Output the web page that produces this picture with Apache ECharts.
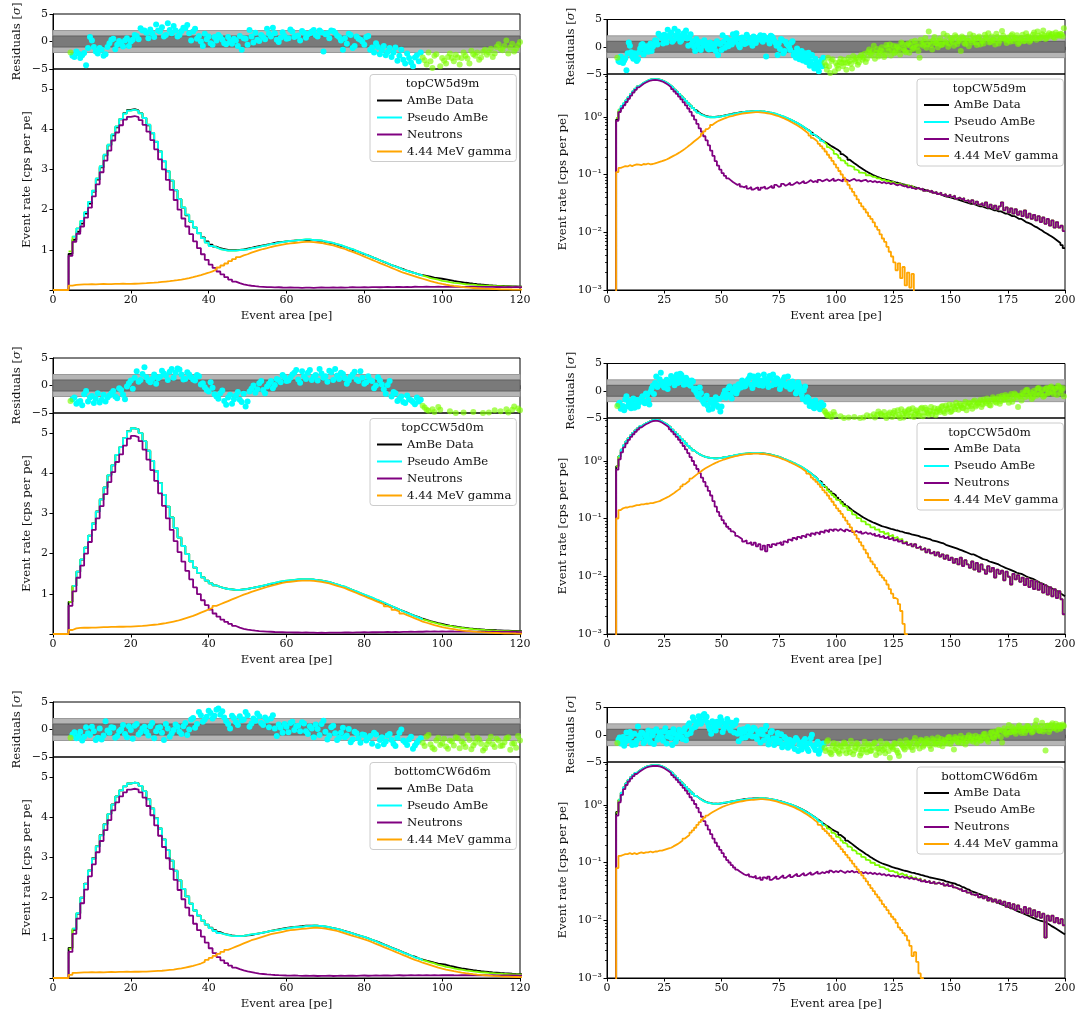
<!DOCTYPE html>
<html>
<head>
<meta charset="utf-8">
<title>AmBe spectra: data vs pseudo AmBe</title>
<script src="https://cdn.jsdelivr.net/npm/echarts@6/dist/echarts.min.js"></script>
<style>
  html, body { margin: 0; padding: 0; background: #ffffff; }
  #chart { width: 1080px; height: 1020px; }
</style>
</head>
<body>
<div id="chart"></div>
<script>
// ---------------------------------------------------------------------------
// Histograms: 1 pe bins, bin i covers [i, i+1) pe, i = 0..199.
// Values are event rates in cps per pe.
// Residuals are sampled every 0.5 pe: set A at 4.5, 5.5, ... 199.5 pe and
// set B at 5.0, 6.0, ... 199.0 pe.
// ---------------------------------------------------------------------------
const sourceLabels = ['topCW5d9m', 'topCCW5d0m', 'bottomCW6d6m'];
const legendNames = ['AmBe Data', 'Pseudo AmBe', 'Neutrons', '4.44 MeV gamma'];
const fitRange = [5, 95];           // pe range used in the fit
const residualStartA = 4.5;
const residualStartB = 5.0;

// ---- topCW5d9m ----
const ambe_topCW5d9m = [0,0,0,0,
0.9,1.25,1.45,1.65,1.9,2.15,2.45,2.75,3.05,3.35,
3.6,3.85,4.05,4.25,4.4,4.48,4.5,4.47,4.4,4.28,
4.1,3.9,3.68,3.45,3.2,2.95,2.72,2.48,2.26,2.05,
1.86,1.7,1.55,1.42,1.31,1.21,1.13,1.08,1.04,1.02,
1.0,0.99,0.99,1.0,1.01,1.03,1.05,1.07,1.09,1.11,
1.13,1.15,1.17,1.19,1.2,1.21,1.22,1.23,1.24,1.24,
1.25,1.24,1.24,1.23,1.22,1.2,1.18,1.16,1.13,1.1,
1.07,1.04,1.0,0.97,0.93,0.89,0.86,0.82,0.78,0.74,
0.7,0.66,0.62,0.59,0.55,0.52,0.48,0.45,0.42,0.39,
0.37,0.35,0.33,0.31,0.295,0.28,0.265,0.245,0.225,0.21,
0.195,0.18,0.168,0.157,0.147,0.138,0.13,0.122,0.115,0.109,
0.104,0.099,0.095,0.091,0.088,0.085,0.083,0.081,0.079,0.077,
0.075,0.073,0.072,0.07,0.068,0.067,0.065,0.064,0.062,0.061,
0.059,0.058,0.056,0.055,0.054,0.052,0.051,0.05,0.048,0.047,
0.046,0.045,0.043,0.042,0.041,0.04,0.039,0.038,0.037,0.036,
0.035,0.034,0.033,0.032,0.031,0.031,0.03,0.029,0.028,0.028,
0.027,0.026,0.026,0.025,0.024,0.024,0.023,0.023,0.022,0.021,
0.021,0.02,0.019,0.019,0.018,0.017,0.017,0.016,0.015,0.0145,
0.014,0.0132,0.0125,0.012,0.0113,0.0107,0.01,0.0095,0.009,0.0085,
0.008,0.0075,0.007,0.0065,0.006,0.0053];
const neutrons_topCW5d9m = [0,0,0,0,
0.85,1.2,1.4,1.58,1.8,2.05,2.33,2.63,2.93,3.22,
3.47,3.72,3.92,4.1,4.24,4.31,4.33,4.3,4.23,4.11,
3.94,3.73,3.5,3.25,3.0,2.74,2.49,2.24,2.0,1.78,
1.58,1.39,1.21,1.04,0.89,0.75,0.63,0.55,0.46,0.39,
0.32,0.26,0.21,0.17,0.142,0.121,0.106,0.095,0.086,0.08,
0.074,0.07,0.066,0.069,0.062,0.06,0.064,0.057,0.061,0.055,
0.058,0.06,0.054,0.059,0.062,0.057,0.06,0.064,0.059,0.066,
0.061,0.063,0.069,0.064,0.067,0.072,0.066,0.07,0.074,0.069,
0.073,0.077,0.071,0.075,0.08,0.074,0.077,0.073,0.081,0.076,
0.079,0.083,0.077,0.08,0.085,0.078,0.082,0.079,0.076,0.083,
0.08,0.077,0.081,0.084,0.078,0.08,0.076,0.079,0.081,0.075,
0.078,0.074,0.077,0.073,0.075,0.071,0.074,0.07,0.072,0.068,
0.071,0.067,0.065,0.068,0.064,0.062,0.065,0.06,0.063,0.058,
0.056,0.059,0.055,0.057,0.052,0.054,0.05,0.053,0.048,0.05,
0.046,0.049,0.044,0.046,0.042,0.045,0.041,0.043,0.038,0.04,
0.037,0.039,0.035,0.036,0.033,0.036,0.031,0.034,0.03,0.032,
0.029,0.033,0.027,0.03,0.026,0.029,0.025,0.028,0.033,0.024,
0.027,0.022,0.026,0.021,0.025,0.02,0.023,0.019,0.024,0.018,
0.021,0.017,0.02,0.016,0.019,0.015,0.018,0.014,0.017,0.013,
0.016,0.012,0.015,0.012,0.013,0.0105];
const gamma_topCW5d9m = [0,0,0,0,
0.11,0.13,0.135,0.14,0.138,0.145,0.14,0.146,0.15,0.148,
0.145,0.152,0.15,0.155,0.15,0.152,0.156,0.16,0.165,0.17,
0.176,0.182,0.19,0.2,0.21,0.22,0.232,0.245,0.26,0.278,
0.298,0.32,0.345,0.372,0.4,0.43,0.465,0.51,0.56,0.61,
0.66,0.72,0.77,0.82,0.86,0.89,0.93,0.96,0.99,1.02,
1.04,1.07,1.09,1.11,1.13,1.15,1.16,1.17,1.18,1.19,
1.2,1.2,1.19,1.18,1.17,1.15,1.13,1.11,1.08,1.05,
1.02,0.98,0.95,0.91,0.87,0.83,0.79,0.75,0.71,0.67,
0.63,0.59,0.55,0.51,0.47,0.43,0.4,0.37,0.34,0.31,
0.28,0.25,0.22,0.195,0.172,0.15,0.132,0.115,0.1,0.088,
0.076,0.066,0.057,0.05,0.043,0.037,0.032,0.028,0.025,0.022,
0.019,0.017,0.0148,0.0125,0.011,0.0092,0.0078,0.0068,0.0056,0.0046,
0.0038,0.003,0.0022,0.0029,0.0016,0.0025,0.0012,0.002,0.0011,0.0019,
0,0,0,0,0,0,0,0,0,0,0,0,0,0,0,0,0,0,0,0,0,0,0,0,0,0,0,0,0,0,0,0,0,
0,0,0,0,0,0,0,0,0,0,0,0,0,0,0,0,0,0,0,0,0,0,0,0,0,0,0,0,0,0,0,0,0];
const residualsA_topCW5d9m = [
-2.0,-2.8,-2.2,-2.5,-4.3,0.8,-1.0,-2.2,-1.5,-2.3,
-0.3,0.5,-0.6,-0.4,0.2,-0.8,0.3,1.0,2.4,2.0,
0.6,1.5,3.1,1.8,0.9,3.3,1.5,2.0,1.2,2.5,
3.0,0.2,2.3,1.0,-0.8,0.4,-0.3,0.8,1.2,0.3,
-0.5,0.0,0.5,-0.8,-1.5,0.5,2.1,-0.2,0.3,1.2,
0.4,1.4,2.5,0.3,0.7,1.0,0.6,1.8,1.0,0.2,
1.6,1.3,1.8,1.2,2.0,-1.8,1.5,2.0,1.6,0.8,
-1.5,-0.4,1.2,-0.8,0.5,0.0,0.8,-1.5,-2.0,-1.0,
-1.6,-2.5,-1.2,-2.0,-3.5,-1.5,-4.0,-3.0,-4.5,-2.5,
-2.0,-3.4,-2.0,-4.8,-2.3,-4.5,-3.5,-2.8,-3.0,-2.4,
-4.2,-2.0,-3.1,-1.7,-2.6,-3.3,-1.9,-2.4,-1.3,-2.2,
-0.5,-1.6,0.2,-1.1,-1.8,-0.7,-0.9,-1.5,-0.2,0.4,
-0.6,-1.2,0.1,-0.5,0.8,-0.3,-1.0,0.6,0.2,-0.4,
1.1,0.0,-2.0,0.5,0.9,-0.2,2.8,0.3,1.2,0.7,
-0.1,1.5,0.4,1.0,2.0,0.6,1.3,0.2,1.8,1.0,
-0.8,1.6,0.5,1.1,2.3,0.8,1.4,0.3,1.9,1.2,
0.6,1.7,2.5,0.9,1.3,0.4,1.8,1.1,2.9,1.5,
0.7,1.2,2.0,1.0,1.6,0.5,1.4,2.2,1.1,1.8,
0.9,1.5,2.6,1.3,2.0,1.7,3.0,1.4,2.1,1.9,
2.4,1.6,2.2,2.0,2.3,3.4];
const residualsB_topCW5d9m = [
-2.6,-1.8,-3.0,-2.1,-1.2,0.2,-1.8,-1.2,-2.6,-1.0,
0.3,-1.4,0.1,-0.9,0.6,0.0,1.2,0.4,2.0,1.6,
2.2,0.8,2.0,2.6,1.2,2.1,2.8,0.9,1.9,2.4,
1.5,1.8,0.5,0.0,1.4,0.9,-0.6,0.2,0.8,-0.3,
0.8,-0.4,0.2,1.0,0.6,-0.6,0.9,1.6,0.1,0.8,
2.3,0.9,1.5,-0.1,1.7,0.5,2.2,0.8,1.1,1.9,
0.7,1.5,2.1,0.9,1.7,1.3,0.6,1.9,1.1,0.2,
0.6,1.4,-1.2,0.9,0.3,-0.6,1.0,-1.1,-0.3,-2.3,
-0.8,-1.9,-2.8,-1.1,-2.6,-3.3,-2.2,-3.8,-2.9,-3.6,
-2.9,-4.2,-3.6,-2.6,-5.2,-3.0,-4.0,-2.2,-3.6,-2.9,
-3.0,-2.6,-4.0,-2.3,-2.0,-2.9,-1.5,-2.0,-2.8,-1.0,
-1.3,-0.8,-2.2,-0.4,-1.3,-0.1,-1.9,0.3,-0.8,-1.6,
0.2,-0.9,-0.1,-1.4,0.5,-0.7,0.3,-1.1,0.9,-0.2,
0.5,-0.8,1.3,0.2,1.6,0.4,0.9,-0.5,1.8,0.6,
1.1,0.3,2.4,0.8,0.0,1.6,0.9,2.1,0.5,1.3,
1.9,0.7,1.5,0.1,1.2,2.0,0.8,1.6,0.4,1.0,
2.2,1.4,0.8,1.9,1.2,2.4,0.6,1.5,2.0,1.3,
1.7,0.9,2.3,1.4,2.1,0.8,1.6,1.0,2.5,1.9,
1.2,2.2,1.7,2.8,1.5,2.3,2.0,1.6,2.5,2.2,
1.8,2.6,2.1,2.4,1.9];

// ---- topCCW5d0m ----
const ambe_topCCW5d0m = [0,0,0,0,
0.8,1.2,1.55,1.85,2.15,2.45,2.75,3.05,3.35,3.65,
3.95,4.2,4.45,4.65,4.88,5.05,5.12,5.1,5.0,4.8,
4.56,4.31,4.05,3.76,3.46,3.17,2.9,2.64,2.4,2.19,
1.99,1.81,1.65,1.52,1.41,1.33,1.26,1.21,1.17,1.14,
1.12,1.11,1.1,1.1,1.11,1.12,1.14,1.16,1.18,1.2,
1.22,1.24,1.26,1.28,1.3,1.31,1.33,1.34,1.35,1.36,
1.36,1.36,1.35,1.34,1.33,1.31,1.29,1.26,1.23,1.2,
1.17,1.13,1.09,1.05,1.01,0.97,0.93,0.89,0.85,0.81,
0.77,0.73,0.69,0.65,0.61,0.57,0.53,0.49,0.45,0.42,
0.38,0.35,0.32,0.295,0.27,0.25,0.23,0.21,0.193,0.178,
0.164,0.152,0.141,0.132,0.124,0.117,0.11,0.104,0.099,0.094,
0.09,0.086,0.083,0.08,0.077,0.074,0.072,0.07,0.068,0.066,
0.065,0.063,0.062,0.06,0.059,0.057,0.056,0.055,0.053,0.052,
0.051,0.05,0.048,0.047,0.046,0.045,0.044,0.042,0.041,0.04,
0.039,0.038,0.037,0.035,0.034,0.033,0.032,0.031,0.03,0.029,
0.028,0.027,0.026,0.025,0.024,0.024,0.023,0.022,0.021,0.02,
0.0195,0.019,0.018,0.0175,0.017,0.0165,0.016,0.0152,0.0146,0.014,
0.0135,0.013,0.0125,0.012,0.0115,0.0112,0.011,0.0105,0.01,0.0096,
0.0093,0.009,0.0086,0.0082,0.0078,0.0075,0.0072,0.0068,0.0065,0.0062,
0.006,0.0057,0.0054,0.0051,0.0048,0.0045];
const neutrons_topCCW5d0m = [0,0,0,0,
0.7,1.06,1.4,1.7,2.0,2.29,2.59,2.88,3.18,3.48,
3.78,4.03,4.28,4.47,4.69,4.86,4.93,4.9,4.8,4.59,
4.34,4.08,3.81,3.5,3.19,2.88,2.59,2.31,2.04,1.8,
1.57,1.36,1.16,0.99,0.84,0.72,0.61,0.51,0.43,0.36,
0.3,0.25,0.2,0.16,0.13,0.11,0.094,0.082,0.072,0.066,
0.06,0.056,0.05,0.047,0.044,0.04,0.042,0.037,0.039,0.035,
0.038,0.033,0.036,0.029,0.034,0.027,0.035,0.032,0.036,0.034,
0.037,0.039,0.035,0.04,0.038,0.043,0.041,0.046,0.043,0.048,
0.045,0.05,0.047,0.053,0.049,0.055,0.052,0.057,0.053,0.059,
0.056,0.062,0.058,0.064,0.06,0.065,0.061,0.066,0.062,0.059,
0.064,0.06,0.063,0.058,0.061,0.057,0.06,0.055,0.058,0.054,
0.056,0.052,0.055,0.05,0.053,0.048,0.05,0.046,0.049,0.044,
0.047,0.042,0.044,0.04,0.042,0.037,0.039,0.035,0.037,0.033,
0.036,0.031,0.033,0.029,0.031,0.026,0.029,0.025,0.027,0.023,
0.026,0.022,0.024,0.02,0.023,0.019,0.021,0.017,0.02,0.016,
0.021,0.015,0.019,0.016,0.014,0.018,0.013,0.017,0.012,0.016,
0.013,0.011,0.015,0.012,0.014,0.0095,0.013,0.011,0.0125,0.0085,
0.012,0.0098,0.0072,0.011,0.0088,0.0105,0.008,0.0095,0.007,0.0092,
0.0065,0.0085,0.006,0.0082,0.0058,0.0075,0.0052,0.007,0.0048,0.0065,
0.0045,0.006,0.0042,0.0055,0.004,0.0022];
const gamma_topCCW5d0m = [0,0,0,0,
0.1,0.14,0.15,0.155,0.155,0.16,0.16,0.165,0.17,0.17,
0.175,0.175,0.18,0.18,0.185,0.185,0.19,0.195,0.2,0.21,
0.22,0.23,0.24,0.255,0.27,0.29,0.31,0.33,0.36,0.39,
0.42,0.45,0.49,0.53,0.57,0.61,0.65,0.7,0.74,0.78,
0.82,0.86,0.9,0.94,0.98,1.01,1.05,1.08,1.11,1.14,
1.17,1.2,1.22,1.25,1.27,1.29,1.3,1.31,1.32,1.33,
1.33,1.33,1.32,1.31,1.3,1.28,1.26,1.23,1.2,1.17,
1.14,1.1,1.06,1.02,0.98,0.94,0.9,0.86,0.82,0.78,
0.74,0.69,0.65,0.6,0.56,0.51,0.47,0.43,0.39,0.35,
0.31,0.28,0.25,0.22,0.195,0.17,0.15,0.135,0.12,0.105,
0.092,0.08,0.07,0.06,0.052,0.045,0.039,0.034,0.029,0.025,
0.021,0.018,0.016,0.014,0.012,0.0105,0.0095,0.0085,0.0072,0.006,
0.005,0.0042,0.004,0.0033,0.0025,0.0015,0.001,
0,0,0,0,0,0,0,0,0,0,0,0,0,0,0,0,0,0,0,0,0,0,0,0,0,0,0,0,0,0,0,0,0,0,0,
0,0,0,0,0,0,0,0,0,0,0,0,0,0,0,0,0,0,0,0,0,0,0,0,0,0,0,0,0,0,0,0,0,0];
const residualsA_topCCW5d0m = [
-2.8,-2.2,-3.0,-3.6,-1.0,-2.2,-3.2,-1.4,-2.6,-2.9,
-1.8,-1.0,-2.3,-0.8,-2.5,0.4,-0.6,2.6,1.0,3.3,
0.9,1.2,0.3,1.6,2.2,1.0,3.0,2.3,2.9,1.1,
2.4,1.5,0.9,1.7,0.4,-0.8,0.6,-1.6,-2.4,-0.9,
-3.5,-1.7,-2.5,-1.2,-3.0,-3.8,-1.1,0.0,-0.7,0.8,
-1.4,0.3,-0.5,1.2,0.6,1.5,0.9,2.0,2.8,0.5,
1.7,2.3,1.0,1.9,3.0,1.4,0.7,2.4,3.0,1.2,
2.1,0.3,1.6,2.5,0.8,1.4,0.6,1.0,-0.5,1.5,
0.2,-1.5,0.8,-1.2,-2.8,-2.0,-3.2,-2.5,-3.0,-2.2,
-2.6,-4.0,-4.6,-4.3,-5.6,-4.4,-6.0,-5.4,-6.5,-5.0,
-7.0,-4.9,-6.2,-5.8,-7.5,-6.4,-5.0,-6.8,-5.5,-4.5,
-6.0,-5.2,-4.3,-5.7,-3.8,-4.2,-5.1,-4.6,-5.5,-4.0,
-4.8,-3.7,-5.2,-4.4,-3.4,-4.9,-4.1,-3.6,-4.7,-3.2,
-4.3,-3.8,-4.6,-3.1,-4.0,-3.5,-4.4,-3.0,-3.8,-4.5,
-3.3,-3.9,-2.8,-4.1,-3.4,-2.5,-3.7,-3.0,-2.2,-3.5,
-2.7,-3.2,-2.0,-2.9,-2.4,-3.3,-1.8,-2.6,-2.1,-3.0,
-1.6,-2.3,-1.9,-2.7,-1.2,-2.0,-1.5,-2.4,-0.9,-1.7,
-1.1,-2.2,-0.6,-1.4,-0.8,-3.0,-1.0,-0.3,-1.2,0.2,
-0.7,-1.5,0.0,-0.9,0.5,-0.4,-1.1,0.3,-0.5,0.6,
-0.2,0.4,-0.8,0.7,0.1,-1.0];
const residualsB_topCCW5d0m = [
-2.5,-3.3,-2.8,-1.6,-2.9,-1.9,-2.4,-3.1,-1.7,-2.2,
-1.4,-2.0,-0.5,-1.7,-0.2,0.9,1.4,0.7,2.1,1.5,
0.6,2.0,1.3,2.7,1.8,2.5,1.4,3.1,2.0,1.2,
2.0,1.1,1.9,0.2,-0.3,-1.1,-0.4,-2.0,-1.4,-2.8,
-2.2,-3.3,-1.8,-2.6,-1.5,-2.9,-0.6,-1.3,0.4,-0.8,
-0.2,0.8,0.1,1.0,1.9,0.8,1.4,2.3,1.1,2.6,
1.2,2.8,1.6,0.9,2.2,1.7,2.7,1.0,1.8,2.3,
1.3,0.9,2.0,1.1,2.6,0.3,1.7,0.8,0.0,0.9,
-0.7,0.1,-2.0,-1.4,-2.4,-3.0,-1.8,-2.7,-3.4,-2.9,
-3.7,-4.4,-5.2,-4.8,-3.9,-6.2,-5.8,-4.7,-6.8,-5.6,
-6.3,-5.3,-7.2,-4.8,-6.0,-5.7,-6.6,-4.9,-5.9,-5.1,
-4.7,-5.6,-4.9,-4.4,-5.3,-4.5,-3.9,-5.0,-4.3,-5.4,
-4.1,-4.6,-3.6,-5.0,-4.2,-3.8,-4.5,-3.4,-4.0,-4.8,
-3.6,-4.2,-3.3,-4.7,-3.1,-4.1,-3.7,-4.3,-3.2,-3.9,
-3.6,-3.0,-3.8,-2.7,-3.2,-3.9,-2.6,-3.4,-2.8,-2.4,
-3.1,-2.5,-3.6,-2.2,-2.8,-2.0,-2.9,-2.3,-1.7,-2.5,
-2.0,-1.4,-2.6,-1.8,-1.5,-2.2,-1.1,-1.9,-1.3,-0.8,
-1.6,-1.0,-2.0,-0.5,-1.3,-0.9,-1.8,-0.6,0.1,-1.0,
-0.3,-1.2,-0.5,0.4,-0.7,0.2,-0.9,0.5,-0.3,0.8,
-0.6,0.3,0.9,-0.4,0.5];

// ---- bottomCW6d6m ----
const ambe_bottomCW6d6m = [0,0,0,0,
0.75,1.2,1.6,2.0,2.35,2.68,2.98,3.28,3.56,3.83,
4.08,4.32,4.52,4.67,4.77,4.84,4.86,4.85,4.78,4.65,
4.45,4.22,3.98,3.72,3.45,3.18,2.92,2.67,2.43,2.22,
2.03,1.85,1.68,1.55,1.43,1.33,1.25,1.19,1.14,1.1,
1.08,1.06,1.05,1.05,1.05,1.06,1.07,1.09,1.11,1.13,
1.15,1.17,1.19,1.21,1.23,1.25,1.26,1.27,1.28,1.29,
1.3,1.3,1.3,1.3,1.29,1.28,1.26,1.24,1.22,1.2,
1.17,1.14,1.11,1.08,1.05,1.02,0.99,0.95,0.92,0.88,
0.84,0.8,0.76,0.72,0.68,0.64,0.6,0.56,0.53,0.49,
0.46,0.43,0.41,0.38,0.36,0.345,0.33,0.3,0.28,0.26,
0.24,0.225,0.21,0.195,0.182,0.17,0.16,0.15,0.141,0.133,
0.125,0.118,0.112,0.106,0.101,0.097,0.094,0.091,0.088,0.085,
0.082,0.08,0.078,0.076,0.074,0.072,0.071,0.069,0.067,0.066,
0.064,0.063,0.061,0.06,0.058,0.057,0.055,0.054,0.053,0.052,
0.051,0.05,0.049,0.047,0.046,0.045,0.044,0.043,0.041,0.04,
0.038,0.037,0.035,0.034,0.032,0.031,0.03,0.029,0.028,0.027,
0.026,0.025,0.024,0.023,0.022,0.021,0.02,0.019,0.0185,0.018,
0.017,0.0165,0.016,0.0152,0.0145,0.014,0.0135,0.013,0.0125,0.012,
0.0115,0.011,0.0106,0.0102,0.0099,0.0097,0.0095,0.009,0.0085,0.008,
0.0076,0.0072,0.0068,0.0064,0.006,0.0057];
const neutrons_bottomCW6d6m = [0,0,0,0,
0.65,1.1,1.48,1.86,2.2,2.53,2.83,3.13,3.41,3.68,
3.93,4.17,4.37,4.52,4.62,4.69,4.71,4.69,4.62,4.49,
4.28,4.05,3.8,3.54,3.26,2.98,2.71,2.44,2.19,1.96,
1.75,1.55,1.35,1.19,1.03,0.88,0.74,0.62,0.52,0.44,
0.37,0.31,0.26,0.22,0.19,0.165,0.145,0.125,0.11,0.1,
0.09,0.082,0.075,0.07,0.066,0.062,0.06,0.063,0.057,0.055,
0.059,0.053,0.056,0.05,0.055,0.052,0.057,0.05,0.054,0.058,
0.052,0.056,0.06,0.054,0.058,0.062,0.056,0.06,0.064,0.058,
0.062,0.066,0.06,0.064,0.068,0.062,0.066,0.07,0.064,0.068,
0.065,0.07,0.066,0.072,0.067,0.071,0.068,0.073,0.069,0.066,
0.071,0.068,0.072,0.067,0.07,0.066,0.069,0.065,0.068,0.064,
0.067,0.063,0.066,0.062,0.065,0.061,0.063,0.059,0.062,0.058,
0.06,0.057,0.059,0.055,0.058,0.054,0.056,0.052,0.055,0.051,
0.053,0.049,0.052,0.047,0.05,0.046,0.048,0.044,0.047,0.043,
0.045,0.042,0.044,0.04,0.043,0.039,0.041,0.037,0.036,0.034,
0.035,0.032,0.033,0.03,0.031,0.028,0.027,0.029,0.025,0.027,
0.024,0.026,0.022,0.024,0.021,0.023,0.02,0.022,0.019,0.021,
0.017,0.02,0.016,0.019,0.015,0.018,0.0155,0.0135,0.017,0.013,
0.016,0.012,0.015,0.0115,0.014,0.011,0.013,0.005,0.012,0.0098,
0.012,0.0092,0.011,0.0088,0.0105,0.0082];
const gamma_bottomCW6d6m = [0,0,0,0,
0.08,0.13,0.135,0.14,0.14,0.145,0.14,0.145,0.14,0.145,
0.15,0.145,0.15,0.15,0.155,0.15,0.155,0.155,0.16,0.16,
0.165,0.17,0.175,0.18,0.19,0.2,0.21,0.225,0.24,0.26,
0.28,0.3,0.33,0.36,0.4,0.45,0.5,0.55,0.6,0.65,
0.7,0.74,0.78,0.82,0.86,0.9,0.94,0.97,1.0,1.03,
1.06,1.09,1.11,1.13,1.15,1.17,1.19,1.2,1.21,1.22,
1.23,1.24,1.25,1.25,1.24,1.23,1.21,1.19,1.17,1.14,
1.11,1.08,1.05,1.02,0.99,0.96,0.93,0.89,0.85,0.81,
0.77,0.73,0.69,0.65,0.61,0.57,0.53,0.49,0.45,0.42,
0.38,0.35,0.32,0.29,0.26,0.235,0.21,0.19,0.17,0.152,
0.136,0.121,0.108,0.096,0.085,0.076,0.068,0.06,0.053,0.047,
0.041,0.036,0.032,0.028,0.025,0.022,0.019,0.017,0.015,0.013,
0.0115,0.0104,0.009,0.0075,0.0068,0.006,0.0054,0.0045,0.0036,0.0024,
0.0028,0.0019,0.0012,0.001,
0,0,0,0,0,0,0,0,0,0,0,0,0,0,0,0,0,0,0,0,0,0,0,0,0,0,0,0,0,0,0,
0,0,0,0,0,0,0,0,0,0,0,0,0,0,0,0,0,0,0,0,0,0,0,0,0,0,0,0,0,0,0];
const residualsA_bottomCW6d6m = [
-1.5,-0.5,-1.2,-2.0,0.4,-1.0,-0.3,-1.5,-1.8,1.5,
-0.6,0.3,-1.2,0.0,-0.8,0.6,-1.7,1.0,-0.5,0.5,
-1.1,1.2,-0.3,0.4,-1.9,0.2,-0.7,0.9,-0.4,0.6,
-1.0,1.8,0.3,3.2,1.4,2.3,3.0,2.5,3.8,3.3,
1.5,0.2,2.1,0.8,1.7,3.2,0.5,2.0,2.9,1.2,
2.2,0.4,2.6,-1.2,0.3,1.0,-0.5,1.4,0.6,-0.3,
1.1,-0.8,0.2,0.9,-1.0,1.6,-1.8,0.4,-0.7,-1.5,
0.3,-1.1,-2.3,-0.4,-1.6,-0.9,-2.0,-1.2,-0.6,-3.0,
-1.4,-2.2,-0.8,-2.6,-1.5,0.0,-2.3,-1.8,-3.5,-2.4,
-1.6,-3.0,-1.0,-3.3,-2.0,-2.8,-1.7,-3.5,-2.2,-1.4,
-3.4,-2.6,-1.1,-3.6,-2.4,-1.8,-3.8,-2.7,-1.3,-3.2,
-2.0,-2.9,-1.6,-3.7,-2.5,-1.2,-2.8,-3.4,-1.9,-4.2,
-2.3,-1.5,-2.9,-3.9,-1.8,-2.4,-1.0,-2.2,-1.4,-2.8,
-0.6,-1.7,-2.5,-1.1,-1.9,-0.8,-1.5,-2.6,-1.0,-1.8,
-0.5,-1.3,-2.1,-0.9,-1.6,-0.4,-1.2,-2.7,-0.7,-1.4,
-0.2,-1.0,-1.8,-0.5,-1.1,-0.3,-0.9,-1.5,-0.4,-1.0,
0.1,-0.6,-1.3,0.3,-0.5,0.6,-0.2,0.8,-1.4,1.2,
0.0,1.8,0.5,1.0,0.2,1.4,0.7,1.1,0.3,1.6,
0.9,0.4,1.3,2.6,0.8,1.5,0.6,-2.9,1.7,1.0,
2.1,1.3,0.9,1.8,1.4,1.6];
const residualsB_bottomCW6d6m = [
-0.9,-1.6,-0.4,-1.3,-0.7,0.5,-1.9,0.2,-1.1,-0.2,
0.4,-1.5,-0.3,0.8,-1.4,-0.1,0.7,-0.9,0.2,-0.4,
0.6,-1.6,0.3,-0.6,1.0,-1.3,-0.1,0.5,-0.8,1.2,
0.0,2.1,1.0,2.6,1.8,3.4,2.0,3.6,2.7,2.2,
1.0,2.5,1.3,2.4,1.8,2.6,1.1,1.6,2.4,0.8,
1.7,2.0,0.2,0.9,-0.6,0.5,1.2,-0.1,0.7,1.3,
-0.3,0.6,-1.4,0.1,1.0,-0.4,-1.1,0.7,-1.9,-0.6,
-1.4,0.1,-1.8,-0.7,-2.4,-1.0,-1.6,-2.6,-0.9,-1.9,
-2.7,-1.1,-1.9,-3.0,-0.6,-2.0,-2.8,-1.3,-2.9,-2.0,
-2.4,-1.3,-2.7,-3.6,-1.5,-2.5,-3.1,-2.0,-2.9,-1.6,
-2.2,-3.2,-1.9,-2.9,-1.5,-2.6,-3.4,-2.1,-2.7,-1.7,
-3.0,-2.3,-1.4,-2.6,-3.3,-2.0,-2.5,-1.6,-3.0,-2.1,
-2.6,-1.7,-3.3,-1.2,-2.0,-2.7,-1.5,-1.9,-2.3,-1.2,
-2.0,-1.3,-0.9,-2.2,-1.4,-1.1,-2.0,-0.7,-1.6,-1.2,
-1.9,-0.8,-1.4,-1.1,-0.5,-1.7,-0.9,-0.4,-1.3,-0.8,
-1.5,-0.6,-1.2,-0.1,-0.8,-1.3,-0.2,-0.7,-1.1,-0.4,
0.2,-0.9,-0.3,0.5,-0.7,0.1,0.9,-0.4,0.6,0.3,
1.0,0.4,1.4,0.6,0.9,1.7,0.3,1.2,0.8,1.5,
1.1,0.6,1.9,1.3,0.7,2.2,1.0,1.6,0.5,1.8,
1.2,2.0,1.5,1.1,1.9];

// Top of the linear rate axis for each source
const linearYMax = [5.5, 5.5, 5.5];
const logYRange = [0.001, 5.5];

// ---------------------------------------------------------------------------
const FONT = 'DejaVu Serif';
const C = {
  data: '#000000', pseudo: '#00ffff', outside: '#7cfc00',
  neutrons: '#800080', gamma: '#ffa500'
};
const ambeRows = [ambe_topCW5d9m, ambe_topCCW5d0m, ambe_bottomCW6d6m];
const neutronRows = [neutrons_topCW5d9m, neutrons_topCCW5d0m, neutrons_bottomCW6d6m];
const gammaRows = [gamma_topCW5d9m, gamma_topCCW5d0m, gamma_bottomCW6d6m];
const residualRowsA = [residualsA_topCW5d9m, residualsA_topCCW5d0m, residualsA_bottomCW6d6m];
const residualRowsB = [residualsB_topCW5d9m, residualsB_topCCW5d0m, residualsB_bottomCW6d6m];

const ROW_PITCH = 344;
const COLS = [
  { left: 53, width: 467, resTop: 14, resH: 55, mainTop: 69, mainH: 221,
    xMax: 120, xStep: 20, log: false, mainGap: 20, resGap: 30,
    legendLeft: 370, legendTop: 74.5 },
  { left: 607, width: 458, resTop: 19.5, resH: 54.5, mainTop: 74, mainH: 216,
    xMax: 200, xStep: 25, log: true, mainGap: 38, resGap: 30,
    legendLeft: 917, legendTop: 79 }
];
const LEGEND_W = 145;
const TEXT_SIZE = 11.7;   // axis titles and legend
const TICK_SIZE = 11;     // tick labels
// plain line swatch for the legend entries
const LINE_ICON = 'path://M0,0 L25,0 L25,2 L0,2 Z';

const SUP = { '-': '\u207B', '0': '\u2070', '1': '\u00B9', '2': '\u00B2', '3': '\u00B3' };
function logLabel(v) {
  const e = Math.log10(v);
  const r = Math.round(e);
  if (Math.abs(e - r) > 1e-6) return '';
  return '10' + String(r).split('').map(ch => SUP[ch]).join('');
}

// step histogram points; bin i is drawn over [i, i+1)
function histSteps(vals, from, to, logSafe) {
  const pts = [];
  for (let i = from; i < to; i++) {
    const v = vals[i];
    pts.push([i, (logSafe && !(v > 0)) ? 1e-9 : v]);
  }
  pts.push([to, pts[pts.length - 1][1]]);
  return pts;
}

const axisLineStyle = { show: true, lineStyle: { color: '#000', width: 1 } };
const tickStyle = { show: true, inside: false, length: 3.5, lineStyle: { color: '#000', width: 1 } };
const labelStyle = { fontFamily: FONT, fontSize: TICK_SIZE, color: '#111', margin: 5 };
const nameStyle = { fontFamily: FONT, fontSize: TEXT_SIZE, color: '#111' };

const grids = [], xAxes = [], yAxes = [], series = [], legends = [], graphics = [];

for (let r = 0; r < 3; r++) {
  const dy = r * ROW_PITCH;
  const ambe = ambeRows[r], neu = neutronRows[r], gam = gammaRows[r];
  // the pseudo AmBe spectrum is the sum of the two fitted templates
  const pseudo = neu.map((v, i) => +(v + gam[i]).toFixed(5));

  // residual points, split by the fit range
  const inFit = [], outFit = [];
  const addResiduals = (vals, start) => vals.forEach((v, k) => {
    const x = start + k;
    (x >= fitRange[0] && x < fitRange[1] ? inFit : outFit).push([x, v]);
  });
  addResiduals(residualRowsA[r], residualStartA);
  addResiduals(residualRowsB[r], residualStartB);

  for (let c = 0; c < 2; c++) {
    const col = COLS[c];
    const gRes = grids.length;
    const gMain = gRes + 1;

    grids.push({ left: col.left, top: col.resTop + dy, width: col.width, height: col.resH,
      show: true, borderColor: '#000', borderWidth: 1, backgroundColor: 'transparent' });
    grids.push({ left: col.left, top: col.mainTop + dy, width: col.width, height: col.mainH,
      show: true, borderColor: '#000', borderWidth: 1, backgroundColor: 'transparent' });

    // residual axes
    xAxes.push({ gridIndex: gRes, type: 'value', min: 0, max: col.xMax, interval: col.xStep,
      axisLine: axisLineStyle, axisTick: tickStyle, axisLabel: { show: false }, splitLine: { show: false } });
    yAxes.push({ gridIndex: gRes, type: 'value', min: -5, max: 5, interval: 5,
      name: 'Residuals [{i|\u03C3}]', nameLocation: 'middle', nameGap: col.resGap,
      nameTextStyle: Object.assign({}, nameStyle, { rich: { i: { fontFamily: FONT, fontSize: TEXT_SIZE, fontStyle: 'italic', color: '#111' } } }),
      axisLine: axisLineStyle, axisTick: tickStyle,
      axisLabel: Object.assign({}, labelStyle, { formatter: v => String(v).replace('-', '\u2212') }),
      splitLine: { show: false } });

    // main axes
    xAxes.push({ gridIndex: gMain, type: 'value', min: 0, max: col.xMax, interval: col.xStep,
      name: 'Event area [pe]', nameLocation: 'middle', nameGap: 20, nameTextStyle: nameStyle,
      axisLine: axisLineStyle, axisTick: tickStyle, axisLabel: labelStyle, splitLine: { show: false } });
    if (col.log) {
      yAxes.push({ gridIndex: gMain, type: 'log', logBase: 10, min: logYRange[0], max: logYRange[1],
        name: 'Event rate [cps per pe]', nameLocation: 'middle', nameGap: col.mainGap, nameTextStyle: nameStyle,
        axisLine: axisLineStyle, axisTick: tickStyle,
        minorTick: { show: true, splitNumber: 9, length: 2, lineStyle: { color: '#000', width: 0.8 } },
        axisLabel: Object.assign({}, labelStyle, { formatter: logLabel }),
        splitLine: { show: false }, minorSplitLine: { show: false } });
    } else {
      yAxes.push({ gridIndex: gMain, type: 'value', min: 0, max: linearYMax[r], interval: 1,
        name: 'Event rate [cps per pe]', nameLocation: 'middle', nameGap: col.mainGap, nameTextStyle: nameStyle,
        axisLine: axisLineStyle, axisTick: tickStyle,
        axisLabel: Object.assign({}, labelStyle, { formatter: v => (v >= 1 && Number.isInteger(v)) ? String(v) : '' }),
        splitLine: { show: false } });
    }

    series.push({ type: 'scatter', name: 'residuals (fit range)', xAxisIndex: gRes, yAxisIndex: gRes,
      data: inFit, symbolSize: 6, itemStyle: { color: C.pseudo, opacity: 1 }, z: 3, silent: true,
      markArea: { silent: true, z: 1, data: [
        [{ yAxis: -2, itemStyle: { color: '#b5b5b5', borderColor: '#9a9a9a', borderWidth: 1 } }, { yAxis: 2 }],
        [{ yAxis: -1, itemStyle: { color: '#7a7a7a', borderColor: '#606060', borderWidth: 1 } }, { yAxis: 1 }]
      ] } });
    series.push({ type: 'scatter', name: 'residuals (outside fit)', xAxisIndex: gRes, yAxisIndex: gRes,
      data: outFit, symbolSize: 6, itemStyle: { color: C.outside, opacity: 0.65 }, z: 3, silent: true });

    // spectra
    const L = col.log;
    const line = (name, color, pts, z) => ({ type: 'line', name, xAxisIndex: gMain, yAxisIndex: gMain,
      data: pts, step: 'end', symbol: 'none', showSymbol: false, clip: true, silent: true, z,
      lineStyle: { color, width: 1.8 }, itemStyle: { color }, emphasis: { disabled: true } });
    series.push(line('AmBe Data', C.data, histSteps(ambe, 0, 200, L), 2));
    series.push(line('Pseudo AmBe (outside fit)', C.outside, histSteps(pseudo, 4, 200, L), 3));
    series.push(line('Pseudo AmBe', C.pseudo, histSteps(pseudo, fitRange[0], fitRange[1], L), 4));
    series.push(line('Neutrons', C.neutrons, histSteps(neu, 0, 200, L), 5));
    series.push(line('4.44 MeV gamma', C.gamma, histSteps(gam, 0, 200, L), 6));

    // legend with the source name as its title
    const lTop = col.legendTop + dy;
    legends.push({ orient: 'vertical', left: col.legendLeft, top: lTop,
      padding: [19, 5, 3, 7], itemGap: 3, itemWidth: 25, itemHeight: 14,
      icon: LINE_ICON, symbolKeepAspect: true,
      backgroundColor: 'rgba(255,255,255,0.85)', borderColor: '#cccccc', borderWidth: 1, borderRadius: 3,
      textStyle: { fontFamily: FONT, fontSize: TEXT_SIZE, color: '#111', lineHeight: 14 },
      selectedMode: false, data: legendNames });
    graphics.push({ type: 'text', x: col.legendLeft + LEGEND_W / 2, y: lTop + 9.5, z: 100,
      style: { text: sourceLabels[r], font: TEXT_SIZE + 'px "DejaVu Serif"', fill: '#111',
        align: 'center', verticalAlign: 'middle' } });
  }
}

const chart = echarts.init(document.getElementById('chart'), null, { renderer: 'canvas' });
chart.setOption({
  animation: false,
  backgroundColor: '#ffffff',
  grid: grids, xAxis: xAxes, yAxis: yAxes, series, legend: legends,
  graphic: graphics
});
</script>
</body>
</html>
